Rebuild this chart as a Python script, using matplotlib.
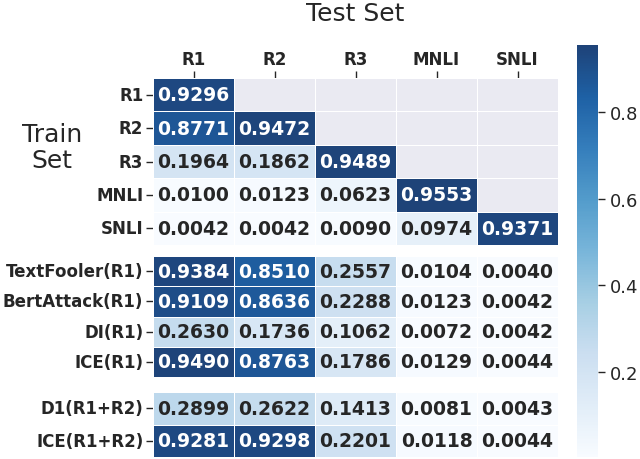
import numpy as np
import matplotlib
matplotlib.use("Agg")
import matplotlib.pyplot as plt
from matplotlib.colors import ListedColormap
import seaborn as sns

cols = ["R1", "R2", "R3", "MNLI", "SNLI"]

rows1 = ["R1", "R2", "R3", "MNLI", "SNLI"]
vals1 = [[0.9296, np.nan, np.nan, np.nan, np.nan],
         [0.8771, 0.9472, np.nan, np.nan, np.nan],
         [0.1964, 0.1862, 0.9489, np.nan, np.nan],
         [0.0100, 0.0123, 0.0623, 0.9553, np.nan],
         [0.0042, 0.0042, 0.0090, 0.0974, 0.9371]]

rows2 = ["TextFooler(R1)", "BertAttack(R1)", "DI(R1)", "ICE(R1)"]
vals2 = [[0.9384, 0.8510, 0.2557, 0.0104, 0.0040],
         [0.9109, 0.8636, 0.2288, 0.0123, 0.0042],
         [0.2630, 0.1736, 0.1062, 0.0072, 0.0042],
         [0.9490, 0.8763, 0.1786, 0.0129, 0.0044]]

rows3 = ["D1(R1+R2)", "ICE(R1+R2)"]
vals3 = [[0.2899, 0.2622, 0.1413, 0.0081, 0.0043],
         [0.9281, 0.9298, 0.2201, 0.0118, 0.0044]]

sns.set_theme(style="darkgrid")
plt.rcParams['font.family'] = ['DejaVu Sans']

# Blues, slightly washed toward white
base = plt.get_cmap("Blues")(np.linspace(0, 1, 256))
base[:, :3] = base[:, :3] * 0.91 + 0.09
cmap = ListedColormap(base)

W, H = 640, 460
fig = plt.figure(figsize=(6.4, 4.6), dpi=100)

def px(l, t, r, b):
    return [l / W, 1 - b / H, (r - l) / W, (b - t) / H]

ax1 = fig.add_axes(px(153, 79, 558, 246))
ax2 = fig.add_axes(px(153, 257, 558, 378))
ax3 = fig.add_axes(px(153, 393, 558, 458))
cax = fig.add_axes(px(577, 46, 598, 458))

allv = np.array(vals1 + vals2 + vals3, dtype=float)
vmin, vmax = np.nanmin(allv), np.nanmax(allv)

for i, (ax, rows, vals) in enumerate([(ax1, rows1, vals1), (ax2, rows2, vals2), (ax3, rows3, vals3)]):
    data = np.array(vals, dtype=float)
    sns.heatmap(data, ax=ax, cmap=cmap, vmin=vmin, vmax=vmax,
                annot=True, fmt=".4f", annot_kws={"fontsize": 13.5, "fontweight": "bold"},
                linewidths=0.6, linecolor="white", mask=np.isnan(data),
                cbar=(i == 0), cbar_ax=cax if i == 0 else None,
                xticklabels=cols, yticklabels=rows)
    ax.set_facecolor("#EAEAF2")
    ax.grid(False)
    ax.tick_params(axis="y", left=True, length=5, width=1, color="#262626", pad=2)
    for t in ax.get_yticklabels():
        t.set_fontweight("bold")
        t.set_fontsize(12)
        t.set_rotation(0)
    if i == 0:
        ax.xaxis.tick_top()
        ax.tick_params(axis="x", top=True, bottom=False, length=5, width=1, color="#262626", pad=2)
        for t in ax.get_xticklabels():
            t.set_fontweight("bold")
            t.set_fontsize(12)
    else:
        ax.set_xticks([])

cax.tick_params(labelsize=13, right=True, length=5, width=1, color="#262626")
cax.set_yticks([0.2, 0.4, 0.6, 0.8])

fig.text(355 / W, 1 - 14 / H, "Test Set", ha="center", va="center", fontsize=18, color="#262626")
fig.text(52 / W, 1 - 148 / H, "Train\nSet", ha="center", va="center", fontsize=18,
         color="#262626", linespacing=1.1)

fig.savefig("out.png", dpi=100)
